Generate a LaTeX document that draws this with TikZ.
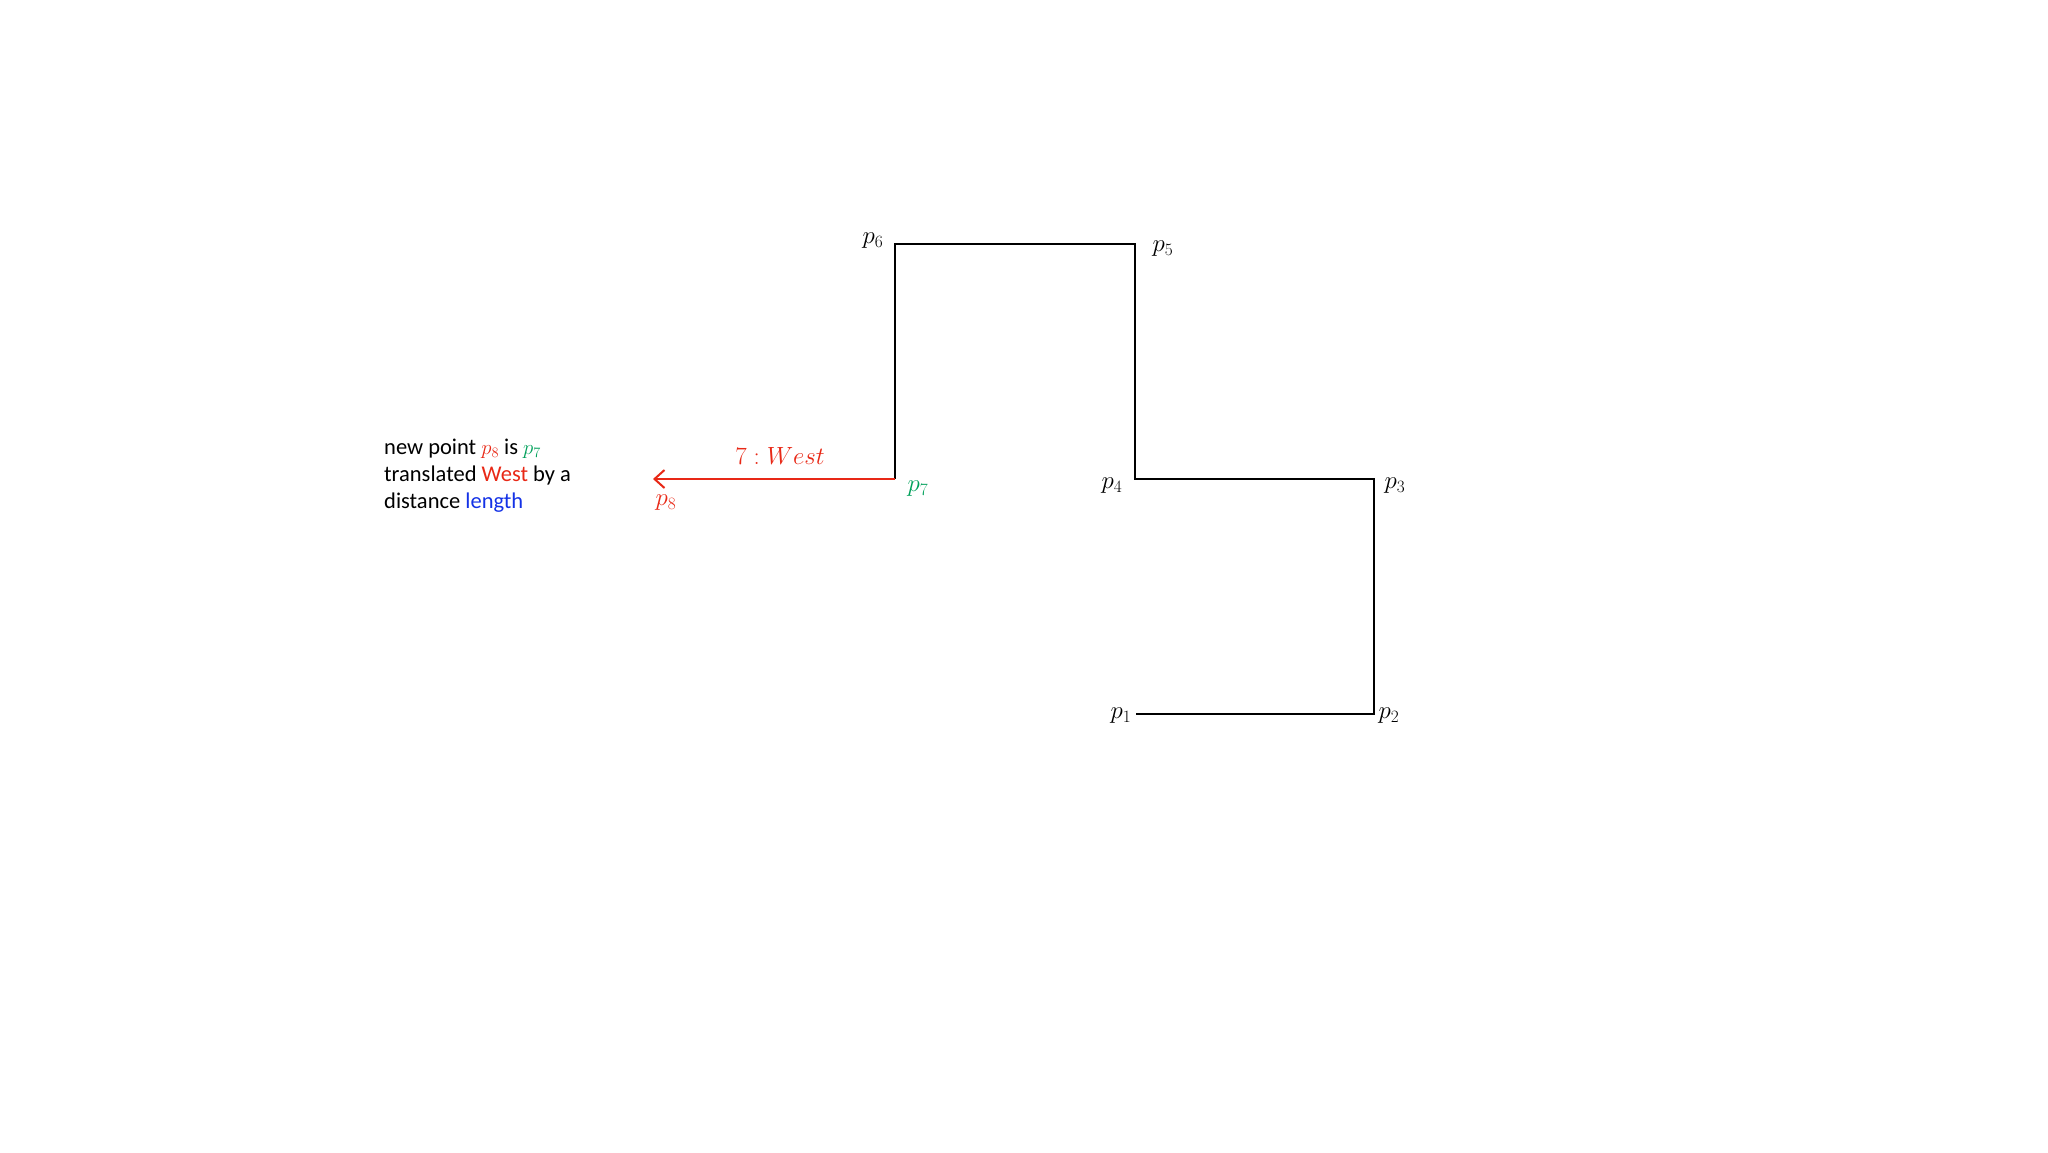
\documentclass[tikz,border=0pt]{standalone}
\usepackage{fontspec}
\setmainfont{Carlito}
\usetikzlibrary{arrows.meta}
\definecolor{pred}{RGB}{232,40,22}
\definecolor{pgreen}{RGB}{0,160,90}
\definecolor{pblue}{RGB}{20,50,230}
\tikzset{
  path/.style={line width=2.6pt, line join=miter},
  lbl/.style={inner sep=0pt, font=\fontsize{26}{30}\selectfont},
  pt/.style={inner sep=0pt, minimum size=0pt}
}
\begin{document}
\begin{tikzpicture}[x=1pt,y=-1pt]
\useasboundingbox (0,0) rectangle (2048,1152);
\coordinate (P1) at (1136,714);
\coordinate (P2) at (1374,714);
\coordinate (P3) at (1374,479);
\coordinate (P4) at (1135,479);
\coordinate (P5) at (1135,244);
\coordinate (P6) at (895,244);
\coordinate (P7) at (895,479);
\coordinate (P8) at (653,479);
\draw[path] (P1) -- (P2) -- (P3) -- (P4) -- (P5) -- (P6) -- (P7);
\draw[pred, line width=2pt, -{Straight Barb[length=10pt,width=18pt,line width=2pt]}] (P7) -- (P8);
\node[lbl] (l1) at (1121,716) {$p_1$};
\node[lbl] (l2) at (1389,716) {$p_2$};
\node[lbl] (l3) at (1395,486) {$p_3$};
\node[lbl] (l4) at (1112,486) {$p_4$};
\node[lbl] (l5) at (1163,249) {$p_5$};
\node[lbl] (l6) at (873,241) {$p_6$};
\node[lbl, text=pgreen] (l7) at (918,489) {$p_7$};
\node[lbl, text=pred] (l8) at (666,503) {$p_8$};
\node[lbl, text=pred] (lw) at (780,456) {$7:West$};
\node[inner sep=0pt, anchor=north west, align=left, font=\fontsize{22.5}{27}\selectfont] (txt) at (384,439)
 {new point \textcolor{pred}{$p_8$} is \textcolor{pgreen}{$p_7$}\\
  translated \textcolor{pred}{West} by a\\
  distance \textcolor{pblue}{length}};
\end{tikzpicture}
\end{document}
